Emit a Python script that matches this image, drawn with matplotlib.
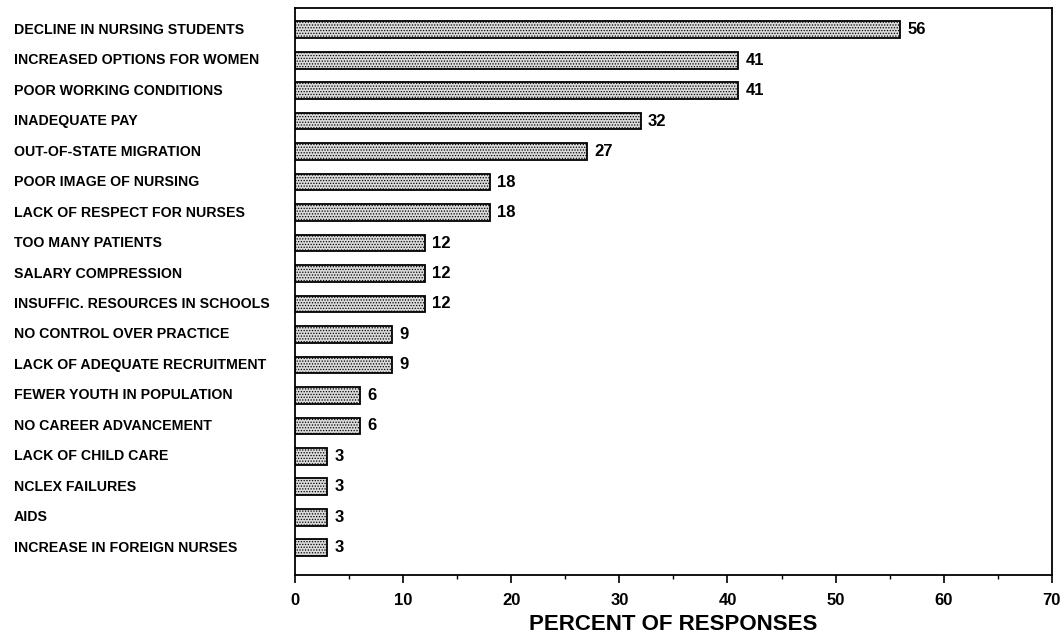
import matplotlib.pyplot as plt
from matplotlib.ticker import MultipleLocator

plt.rcParams['font.family'] = ['Liberation Sans', 'DejaVu Sans']
plt.rcParams['hatch.color'] = '#4a4a4a'
plt.rcParams['hatch.linewidth'] = 0.6

REASONS = [
    'DECLINE IN NURSING STUDENTS',
    'INCREASED OPTIONS FOR WOMEN',
    'POOR WORKING CONDITIONS',
    'INADEQUATE PAY',
    'OUT-OF-STATE MIGRATION',
    'POOR IMAGE OF NURSING',
    'LACK OF RESPECT FOR NURSES',
    'TOO MANY PATIENTS',
    'SALARY COMPRESSION',
    'INSUFFIC. RESOURCES IN SCHOOLS',
    'NO CONTROL OVER PRACTICE',
    'LACK OF ADEQUATE RECRUITMENT',
    'FEWER YOUTH IN POPULATION',
    'NO CAREER ADVANCEMENT',
    'LACK OF CHILD CARE',
    'NCLEX FAILURES',
    'AIDS',
    'INCREASE IN FOREIGN NURSES',
]
PERCENTS = [56, 41, 41, 32, 27, 18, 18, 12, 12, 12, 9, 9, 6, 6, 3, 3, 3, 3]
X_TICKS = [0, 10, 20, 30, 40, 50, 60, 70]

fig = plt.figure(figsize=(10.63, 6.41), dpi=100)
ax = fig.add_axes([0.2775, 0.103, 0.712, 0.885])

pos = list(range(len(REASONS)))
ax.barh(pos, PERCENTS, height=0.55, color='#dadada', edgecolor='black',
        linewidth=1.3, hatch='......')

for y, v in zip(pos, PERCENTS):
    ax.text(v + 0.65, y, str(v), va='center', ha='left',
            fontsize=12, fontweight='bold')

ax.set_ylim(len(REASONS) - 1 + 0.89, -0.72)
ax.set_xlim(0, 70)
ax.set_yticks([])
ax.set_xticks(X_TICKS)
ax.set_xticklabels([str(t) for t in X_TICKS], fontsize=12, fontweight='bold')
ax.xaxis.set_minor_locator(MultipleLocator(5))
ax.tick_params(axis='x', which='major', length=6, width=1.2, pad=7)
ax.tick_params(axis='x', which='minor', length=3, width=1)

for side in ['left', 'bottom', 'right', 'top']:
    ax.spines[side].set_linewidth(1.3)

# category names sit flush left in figure coordinates
for y, name in zip(pos, REASONS):
    ax.annotate(name, xy=(0, y), xycoords=('figure fraction', 'data'),
                xytext=(14, 0), textcoords='offset pixels',
                va='center', ha='left', fontsize=10.2, fontweight='bold')

ax.set_xlabel('PERCENT OF RESPONSES', fontsize=16, fontweight='bold', labelpad=4)

fig.savefig('out.png', dpi=100)
